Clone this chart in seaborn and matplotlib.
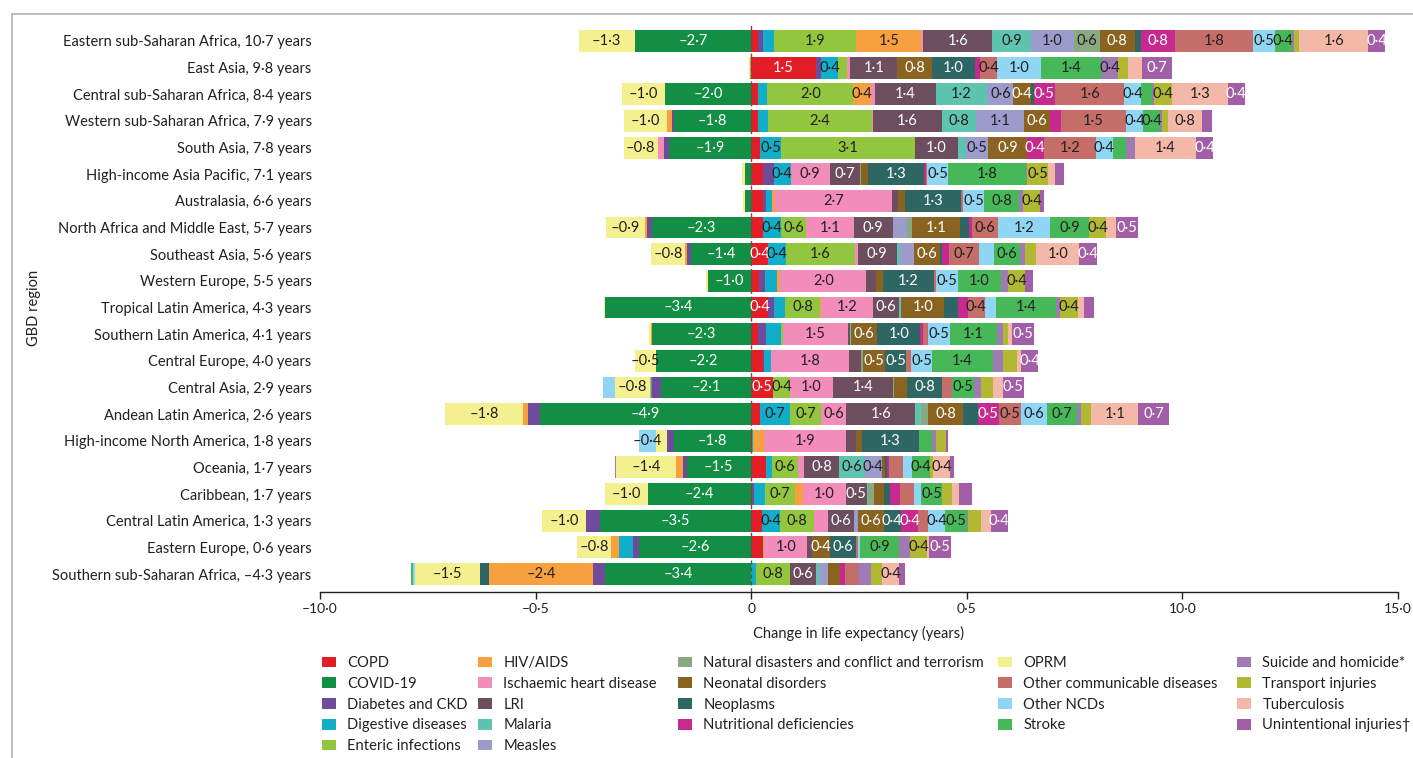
import numpy as np
import pandas as pd
import seaborn as sns
import matplotlib.pyplot as plt
from matplotlib.patches import Patch
from matplotlib.lines import Line2D

# regions, top to bottom, with the net change written in the label
regions = ['Eastern sub-Saharan Africa', 'East Asia', 'Central sub-Saharan Africa',
           'Western sub-Saharan Africa', 'South Asia', 'High-income Asia Pacific',
           'Australasia', 'North Africa and Middle East', 'Southeast Asia', 'Western Europe',
           'Tropical Latin America', 'Southern Latin America', 'Central Europe', 'Central Asia',
           'Andean Latin America', 'High-income North America', 'Oceania', 'Caribbean',
           'Central Latin America', 'Eastern Europe', 'Southern sub-Saharan Africa']
net_change = ['10·7', '9·8', '8·4', '7·9', '7·8', '7·1', '6·6', '5·7', '5·6', '5·5', '4·3',
              '4·1', '4·0', '2·9', '2·6', '1·8', '1·7', '1·7', '1·3', '0·6', '–4·3']

causes = ['COPD', 'COVID-19', 'Diabetes and CKD', 'Digestive diseases', 'Enteric infections',
          'HIV/AIDS', 'Ischaemic heart disease', 'LRI', 'Malaria', 'Measles',
          'Natural disasters and conflict and terrorism', 'Neonatal disorders', 'Neoplasms',
          'Nutritional deficiencies', 'OPRM', 'Other communicable diseases', 'Other NCDs',
          'Stroke', 'Suicide and homicide*', 'Transport injuries', 'Tuberculosis',
          'Unintentional injuries†']
colours = ['#e31e26', '#138f45', '#6f4c9b', '#12adc8', '#91c63e', '#f6a03f', '#f28cb8',
           '#6d4e5e', '#5ec4b0', '#9c9bcb', '#8aa882', '#8b6320', '#2e6664', '#c72a8f',
           '#f4f08f', '#c46d69', '#8fd6f4', '#47b858', '#a07ab3', '#b1b832', '#f4b8a8',
           '#a35ea8']
light_text = {'COPD', 'COVID-19', 'LRI', 'Neonatal disorders', 'Neoplasms',
              'Nutritional deficiencies', 'Unintentional injuries†'}
legend_columns = [5, 5, 4, 4, 4]

# contributions (years), one list per cause, regions in the order above
copd = [0.16, 1.5, 0.15, 0.15, 0.2, 0.28, 0.28, 0.28, 0.4, 0.19, 0.4, 0.15, 0.28, 0.5, 0.21,
        0.02, 0.34, 0.03, 0.26, 0.28, 0]
covid = [-2.7, 0, -2.0, -1.8, -1.9, -0.14, -0.14, -2.3, -1.4, -1.0, -3.4, -2.3, -2.2, -2.1,
         -4.9, -1.8, -1.5, -2.4, -3.5, -2.6, -3.4]
diabetes = [0.12, 0.12, 0, -0.03, -0.12, 0.24, 0.07, -0.12, -0.08, 0.12, 0.12, 0.19, 0.02,
            -0.19, -0.28, -0.15, -0.09, 0.03, -0.32, -0.15, -0.27]
digestive = [0.26, 0.4, 0.22, 0.25, 0.5, 0.4, 0.14, 0.4, 0.4, 0.28, 0.27, 0.34, 0.17, -0.04,
             0.7, 0.03, 0.15, 0.25, 0.4, -0.31, 0.1]
enteric = [1.9, 0.2, 2.0, 2.4, 3.1, 0, 0, 0.6, 1.6, 0, 0.8, 0.06, 0, 0.4, 0.7, 0, 0.6, 0.7,
           0.8, 0.02, 0.8]
hiv = [1.5, -0.02, 0.4, -0.12, 0, 0, 0.07, -0.05, -0.05, 0.08, 0.04, -0.03, 0, -0.02, -0.11,
       0.24, -0.15, 0.18, -0.02, -0.18, -2.4]
ihd = [0.05, 0.07, 0.11, 0.02, -0.14, 0.9, 2.7, 1.1, 0.07, 2.0, 1.2, 1.5, 1.8, 1.0, 0.6, 1.9,
       0.14, 1.0, 0.32, 1.0, -0.02]
lri = [1.6, 1.1, 1.4, 1.6, 1.0, 0.7, 0.15, 0.9, 0.9, 0.22, 0.6, 0.04, 0.28, 1.4, 1.6, 0.23,
       0.8, 0.5, 0.6, 0.12, 0.6]
malaria = [0.9, 0, 1.2, 0.8, 0.19, 0, 0, 0, 0.07, 0, 0.05, 0.04, 0, 0, 0.12, 0, 0.6, 0.03, 0,
           0, 0.08]
measles = [1.0, 0, 0.6, 1.1, 0.5, 0, 0, 0.34, 0.34, 0, 0, 0, 0, 0, 0, 0, 0.4, 0, 0.09, 0, 0.21]
disasters = [0.6, 0, 0, 0, 0, 0.02, 0, 0.12, 0, 0, 0, 0, 0.05, 0.02, 0.18, 0, 0, 0.12, 0, 0, 0]
neonatal = [0.8, 0.8, 0.4, 0.6, 0.9, 0.16, 0.16, 1.1, 0.6, 0.16, 1.0, 0.6, 0.5, 0.3, 0.8,
            0.16, 0.08, 0.23, 0.6, 0.4, 0.26]
neoplasms = [0.15, 1.0, 0.07, 0, 0, 1.3, 1.3, 0.21, 0.05, 1.2, 0.31, 1.0, 0.5, 0.8, 0.34, 1.3,
             0.04, 0.16, 0.4, 0.6, -0.21]
nutritional = [0.8, 0.12, 0.5, 0.27, 0.4, 0.05, 0, 0.08, 0.16, 0, 0.23, 0.06, 0, 0, 0.5, 0,
               0.05, 0.21, 0.4, 0, 0.12]
oprm = [-1.3, -0.03, -1.0, -1.0, -0.8, -0.08, -0.06, -0.9, -0.8, -0.05, -0.02, -0.03, -0.5,
        -0.8, -1.8, -0.26, -1.4, -1.0, -1.0, -0.8, -1.5]
other_comm = [1.8, 0.4, 1.6, 1.5, 1.2, 0.02, 0.04, 0.6, 0.7, 0.04, 0.4, 0.12, 0.1, 0.24, 0.5,
              0, 0.33, 0.34, 0.23, 0.05, 0.31]
other_ncd = [0.5, 1.0, 0.4, 0.4, 0.4, 0.5, 0.5, 1.2, 0.34, 0.5, 0.26, 0.5, 0.5, -0.28, 0.6,
             -0.4, 0.21, 0.15, 0.4, 0.06, -0.05]
stroke = [0.4, 1.4, 0.25, 0.4, 0.31, 1.8, 0.8, 0.9, 0.6, 1.0, 1.4, 1.1, 1.4, 0.5, 0.7, 0.32,
          0.4, 0.5, 0.5, 0.9, -0.04]
suicide = [0.05, 0.4, 0.05, 0.03, 0.19, 0.02, 0.09, 0, 0.12, 0.16, 0.09, 0.13, 0.25, 0.18,
           0.09, 0.09, -0.03, 0, 0.02, 0.25, 0.29]
transport = [0.12, 0.23, 0.4, 0.14, 0.02, 0.5, 0.4, 0.4, 0.26, 0.4, 0.4, 0.12, 0.32, 0.27,
             0.24, 0.23, 0.08, 0.23, 0.3, 0.4, 0.26]
tb = [1.6, 0.32, 1.3, 0.8, 1.4, 0.16, 0, 0.23, 1.0, 0, 0.14, 0.1, 0.09, 0.22, 1.1, 0, 0.4,
      0.16, 0.23, 0.05, 0.4]
unintentional = [0.4, 0.7, 0.4, 0.23, 0.4, 0.21, 0.1, 0.5, 0.4, 0.18, 0.23, 0.5, 0.4, 0.5,
                 0.7, 0.05, 0.09, 0.3, 0.4, 0.5, 0.14]

series = [copd, covid, diabetes, digestive, enteric, hiv, ihd, lri, malaria, measles,
          disasters, neonatal, neoplasms, nutritional, oprm, other_comm, other_ncd, stroke,
          suicide, transport, tb, unintentional]
labels = [f'{r}, {c} years' for r, c in zip(regions, net_change)]
df = pd.DataFrame(dict(zip(causes, series)), index=labels)

sns.set_theme(style='white')
plt.rcParams['font.family'] = ['Lato', 'DejaVu Sans']

fig = plt.figure(figsize=(14.13, 7.58), dpi=100)
ax = fig.add_axes([0.22647, 0.219, 0.76291, 0.75066])

y = np.arange(len(df))
pos = np.zeros(len(df))
neg = np.zeros(len(df))
for cause, col in zip(causes, colours):
    vals = df[cause].to_numpy()
    left = np.where(vals >= 0, pos, neg)
    ax.barh(y, vals, left=left, height=0.82, color=col, linewidth=0, zorder=2)
    tc = 'white' if cause in light_text else '#231f20'
    for i, v in enumerate(vals):
        if abs(v) >= 0.35:
            txt = ('–' if v < 0 else '') + f'{abs(v):.1f}'.replace('.', '·')
            ax.text(left[i] + v / 2, i, txt, ha='center', va='center', fontsize=10.5,
                    color=tc, zorder=4)
    pos += np.clip(vals, 0, None)
    neg += np.clip(vals, None, 0)

ax.axvline(0, color='#555555', lw=1, ls=(0, (3, 2)), zorder=3)

ax.set_xlim(-10, 15)
ax.set_ylim(len(df) - 1 + 0.675, -0.675)
ax.set_yticks(y)
ax.set_yticklabels(df.index, fontsize=10.5, color='#231f20')
ax.set_xticks([-10, -5, 0, 5, 10, 15])
ax.set_xticklabels(['–10·0', '–0·5', '0', '0·5', '10·0', '15·0'], fontsize=10, color='#231f20')
ax.tick_params(axis='y', length=0, pad=6)
ax.tick_params(axis='x', length=5, width=1, color='#231f20', direction='out', bottom=True, pad=3)
ax.set_xlabel('Change in life expectancy (years)', fontsize=10.5, color='#231f20', labelpad=8)
ax.set_ylabel('GBD region', fontsize=10.5, color='#231f20', labelpad=8)
sns.despine(ax=ax, left=True)
ax.spines['bottom'].set_color('#231f20')
ax.spines['bottom'].set_linewidth(1)

# legend: one block per column so the columns sit where the reference has them
col_x = [322, 478, 678, 998, 1237]
start = 0
for n, x in zip(legend_columns, col_x):
    handles = [Patch(facecolor=c, edgecolor='none') for c in colours[start:start + n]]
    fig.legend(handles, causes[start:start + n], loc='upper left',
               bbox_to_anchor=(x / 1413, 1 - 656 / 758), ncol=1, frameon=False,
               fontsize=10.6, handlelength=0.98, handleheight=0.74, handletextpad=0.75,
               labelspacing=0.46, borderpad=0, borderaxespad=0, labelcolor='#231f20')
    start += n

# frame lines of the figure panel
fig.add_artist(Line2D([12 / 1413, 1], [1 - 14 / 758, 1 - 14 / 758], color='#b8aebd', lw=1.2))
fig.add_artist(Line2D([12 / 1413, 12 / 1413], [0, 1 - 14 / 758], color='#b8aebd', lw=1.2))

fig.savefig('out.png', dpi=100)
